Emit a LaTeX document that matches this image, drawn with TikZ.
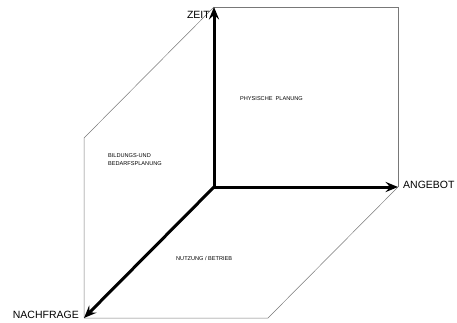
\documentclass[tikz,border=0pt]{standalone}
\usepackage{fontspec}
\setmainfont{Liberation Sans}
\usetikzlibrary{arrows.meta,positioning}
\definecolor{EdgeGray}{RGB}{120,120,120}
\tikzset{
  axisarrow/.style={-{Stealth[length=4.4mm,width=3.6mm,inset=1.6mm]},line width=3pt,draw=black},
  faceline/.style={line width=0.5pt,draw=EdgeGray},
  axislabel/.style={font=\fontsize{10.5}{12}\selectfont,inner sep=1pt},
  facelabel/.style={font=\fontsize{5.6}{8}\selectfont,inner sep=0pt,align=left,anchor=west}
}
\begin{document}
\begin{tikzpicture}[x=1pt,y=-1pt]
\useasboundingbox (0,0) rectangle (457,323);
% axis ends
\coordinate (o) at (214,187);
\coordinate (z) at (214,7);
\coordinate (a) at (398,187);
\coordinate (n) at (84,318);
% far corners of the faces
\coordinate (za) at (398,7);
\coordinate (zn) at (84,138);
\coordinate (an) at (268,318);
\draw[faceline] (z) -- (za) -- (a);
\draw[faceline] (z) -- (zn) -- (n);
\draw[faceline] (n) -- (an) -- (a);
\draw[axisarrow] (o) -- (z);
\draw[axisarrow] (o) -- (a);
\draw[axisarrow] (o) -- (n);
\node[axislabel, left=3pt of z, yshift=-8pt] (zeit) {ZEIT};
\node[axislabel, right=4pt of a, yshift=2pt] (angebot) {ANGEBOT};
\node[axislabel, left=4pt of n, yshift=3pt] (nachfrage) {NACHFRAGE};
\node[facelabel] (physisch) at (240,99) {PHYSISCHE\ \ PLANUNG};
\node[facelabel] (bildung) at (108,159.5) {BILDUNGS-UND\\BEDARFSPLANUNG};
\node[facelabel] (nutzung) at (176,258) {NUTZUNG / BETRIEB};
\end{tikzpicture}
\end{document}
